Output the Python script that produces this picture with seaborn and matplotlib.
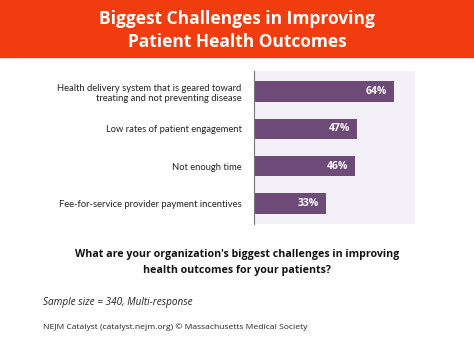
import pandas as pd
import matplotlib.pyplot as plt
import seaborn as sns

categories = [
    "Health delivery system that is geared toward\ntreating and not preventing disease",
    "Low rates of patient engagement",
    "Not enough time",
    "Fee-for-service provider payment incentives",
]
values = [64, 47, 46, 33]
value_labels = ["64%", "47%", "46%", "33%"]

df = pd.DataFrame({"challenge": categories, "pct": values})

sns.set_theme(style="white")
plt.rcParams['font.family'] = ['Open Sans', 'DejaVu Sans']

fig = plt.figure(figsize=(4.74, 3.53), dpi=100)
W, H = 474, 353

# red title banner
fig.patches.append(plt.Rectangle((0, 1 - 57 / H), 1, 57 / H, transform=fig.transFigure,
                                 color="#f03c0f", zorder=0))
fig.text(0.5, 1 - 19 / H, "Biggest Challenges in Improving", ha="center", va="center",
         color="white", fontsize=12.5, fontweight="bold")
fig.text(0.5, 1 - 42 / H, "Patient Health Outcomes", ha="center", va="center",
         color="white", fontsize=12.5, fontweight="bold")

ax = fig.add_axes([254 / W, 1 - 224 / H, (415 - 254) / W, (224 - 71) / H])
ax.set_facecolor("#f4f0f8")
sns.barplot(data=df, x="pct", y="challenge", color="#6d4a78", width=0.54,
            saturation=1, linewidth=0, ax=ax)
ax.set_xlim(0, 73.5)
ax.set_ylim(3.55, -0.55)
ax.set_xlabel("")
ax.set_ylabel("")
ax.set_xticks([])
for s in ["top", "right", "bottom"]:
    ax.spines[s].set_visible(False)
ax.spines["left"].set_color("#777777")
ax.spines["left"].set_linewidth(0.8)
ax.tick_params(axis="y", length=0, pad=9, labelsize=6.75, labelcolor="#222222")
for lab in ax.get_yticklabels():
    lab.set_ha("right")
    lab.set_family(["Lato", "DejaVu Sans"])
    lab.set_linespacing(1.2)

for i, (v, t) in enumerate(zip(values, value_labels)):
    ax.text(v - 3.2, i, t, ha="right", va="center", color="white",
            fontsize=7.5, fontweight="bold")

fig.text(0.5, 1 - 254 / H, "What are your organization's biggest challenges in improving",
         ha="center", va="center", fontsize=7.7, fontweight="bold", color="#111111")
fig.text(0.5, 1 - 270 / H, "health outcomes for your patients?",
         ha="center", va="center", fontsize=7.7, fontweight="bold", color="#111111")
fig.text(43 / W, 1 - 303 / H, "Sample size = 340, Multi-response", ha="left", va="center",
         fontsize=7.2, fontstyle="italic", color="#222222")
fig.text(43 / W, 1 - 327 / H, "NEJM Catalyst (catalyst.nejm.org) © Massachusetts Medical Society",
         ha="left", va="center", fontsize=6.1, color="#222222")

fig.savefig("out.png", dpi=100)
